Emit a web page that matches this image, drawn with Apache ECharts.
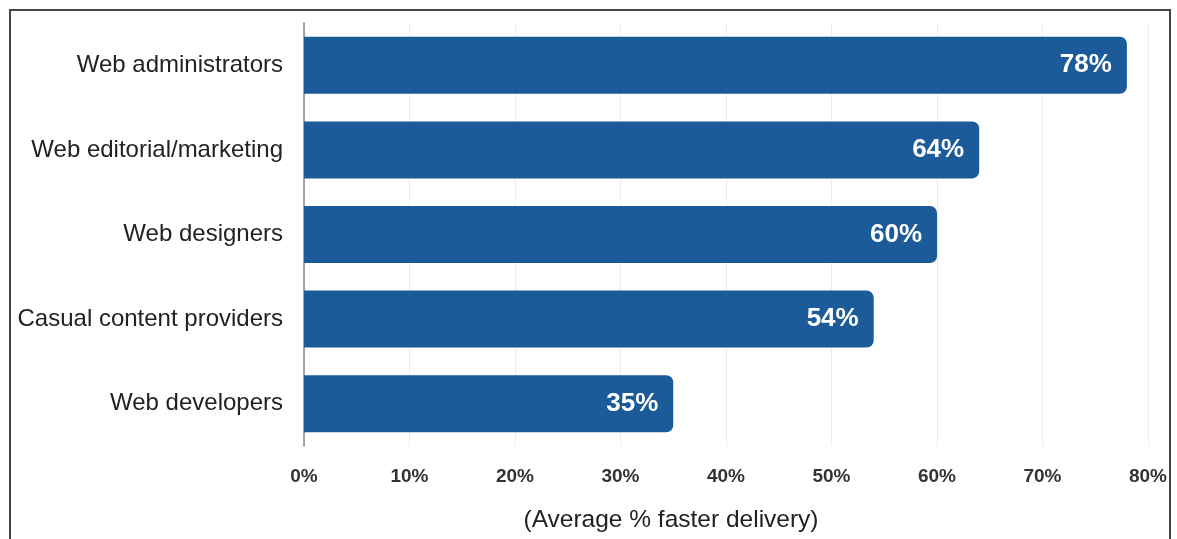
<!DOCTYPE html>
<html>
<head>
<meta charset="utf-8">
<style>
html,body{margin:0;padding:0;background:#fff;}
#chart{width:1177px;height:539px;}
</style>
<script src="https://cdn.jsdelivr.net/npm/echarts@6/dist/echarts.min.js"></script>
</head>
<body>
<div id="chart"></div>
<script>
const categories = ['Web administrators','Web editorial/marketing','Web designers','Casual content providers','Web developers'];
const values = [78, 64, 60, 54, 35];
const tickValues = [0,10,20,30,40,50,60,70,80];
const axisTitle = '(Average % faster delivery)';

const chart = echarts.init(document.getElementById('chart'), null, {renderer:'canvas'});
const FONT = '"Liberation Sans", Arial, Helvetica, sans-serif';
chart.setOption({
  animation:false,
  grid:{left:304, right:29, top:23, bottom:93, containLabel:false},
  xAxis:{
    type:'value', min:tickValues[0], max:tickValues[tickValues.length-1], interval:10,
    axisLine:{show:false}, axisTick:{show:false},
    splitLine:{show:true, lineStyle:{color:'#ececec', width:1}},
    axisLabel:{formatter:v=>v+'%', color:'#333', fontSize:19, fontWeight:'bold', fontFamily:FONT, margin:21}
  },
  yAxis:{
    type:'category', data:categories, inverse:true,
    axisLine:{show:true, lineStyle:{color:'#888', width:1.5}},
    axisTick:{show:false},
    axisLabel:{color:'#222', fontSize:24, fontFamily:FONT, margin:21}
  },
  series:[{
    type:'bar', data:values, barWidth:57,
    itemStyle:{color:'#1b5b99', borderRadius:[0,7,7,0]},
    label:{show:true, position:'insideRight', distance:15, formatter:p=>p.value+'%', color:'#fff', fontSize:26, fontWeight:'bold', fontFamily:FONT}
  }],
  graphic:[
    {type:'rect', shape:{x:10, y:10, width:1160, height:560}, style:{fill:'none', stroke:'#444', lineWidth:2}, silent:true},
    {type:'text', x:671, y:520, style:{text:axisTitle, fill:'#222', font:'24.5px '+FONT, textAlign:'center', textVerticalAlign:'middle'}}
  ]
});
</script>
</body>
</html>
